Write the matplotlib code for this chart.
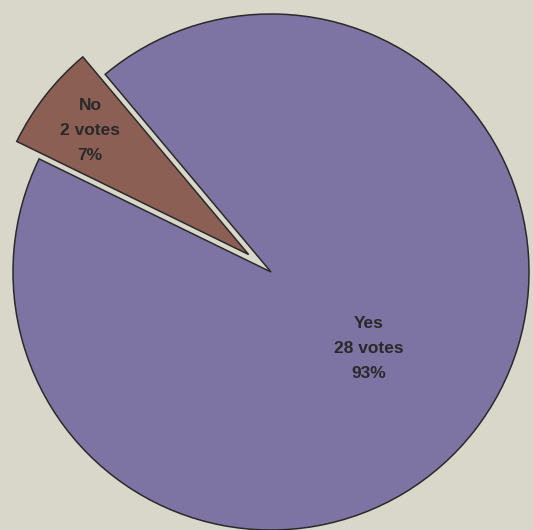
import matplotlib.pyplot as plt
import numpy as np

labels = ["No", "Yes"]
votes = [2, 28]
percents = ["7%", "93%"]

colors = ["#8c5f55", "#7d74a3"]
bg_color = "#d9d6ca"
edge_color = "#2b2a2a"
text_color = "#2a2929"

radius = 258

fig = plt.figure(figsize=(5.33, 5.30), dpi=100)
fig.patch.set_facecolor(bg_color)
ax = fig.add_axes([0, 0, 1, 1])
ax.set_facecolor(bg_color)

# explode is added to the centre directly, so give it in data units
wedges, _ = ax.pie(
    votes,
    colors=colors,
    explode=[0.11 * radius, 0.0],
    startangle=130,
    counterclock=True,
    center=(271, 258),
    radius=radius,
    frame=True,
    wedgeprops=dict(edgecolor=edge_color, linewidth=1.1),
)
ax.set_xlim(0, 533)
ax.set_ylim(0, 530)
ax.set_aspect("equal")
ax.axis("off")

# label positions as a fraction of the radius along each slice's mid angle
label_dist = [0.78, 0.48]
for w, lab, n, pct, d in zip(wedges, labels, votes, percents, label_dist):
    mid = np.deg2rad((w.theta1 + w.theta2) / 2)
    cx, cy = w.center
    x = cx + d * w.r * np.cos(mid)
    y = cy + d * w.r * np.sin(mid)
    ax.text(x, y, f"{lab}\n{n} votes\n{pct}", ha="center", va="center",
            fontsize=12.5, fontweight="bold", family="Liberation Sans",
            color=text_color, linespacing=1.85)

fig.savefig("out.png", dpi=100, facecolor=bg_color)
